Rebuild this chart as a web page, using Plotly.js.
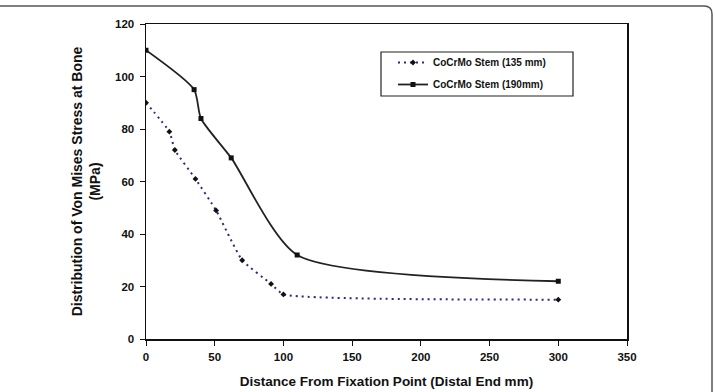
<!DOCTYPE html>
<html>
<head>
<meta charset="utf-8">
<script src="https://cdn.plot.ly/plotly-3.0.1.min.js"></script>
<style>
  html, body { margin: 0; padding: 0; background: #fff; }
  #chart { width: 715px; height: 392px; }
</style>
</head>
<body>
<div id="chart"></div>
<script>
// Distance from the fixation point (mm) and von Mises stress at bone (MPa)
const dist135 = [0, 17, 21, 36, 51, 70, 91, 100, 300];
const stress135 = [90, 79, 72, 61, 49, 30, 21, 17, 15];
const dist190 = [0, 35, 40, 62, 110, 300];
const stress190 = [110, 95, 84, 69, 32, 22];

const seriesNames = ['CoCrMo Stem (135 mm)', 'CoCrMo Stem (190mm)'];
const xTicks = [0, 50, 100, 150, 200, 250, 300, 350];
const yTicks = [0, 20, 40, 60, 80, 100, 120];

const FONT = 'Liberation Sans, Arial, Helvetica, sans-serif';

const traces = [
  {
    x: dist135, y: stress135, name: seriesNames[0], legendgroup: 'a',
    type: 'scatter', mode: 'lines+markers',
    line: { color: '#2a2a8a', width: 2, dash: '2px,4px', shape: 'spline', smoothing: 0.45 },
    marker: { symbol: 'diamond', size: 4.5, color: '#111' }
  },
  {
    x: dist190, y: stress190, name: seriesNames[1], legendgroup: 'b',
    type: 'scatter', mode: 'lines+markers',
    line: { color: '#222', width: 1.8, shape: 'spline', smoothing: 0.65 },
    marker: { symbol: 'square', size: 5, color: '#111' }
  }
];

// pixel -> paper coordinate helpers
const L = 146, R = 88, T = 24, B = 53, W = 715, H = 392;
const pw = W - L - R, ph = H - T - B;
const px = v => (v - L) / pw;
const py = v => (H - B - v) / ph;

// outer chart frame with a rounded top-right corner
const framePath = 'M ' + px(-5) + ',' + py(6) +
  ' L ' + px(704) + ',' + py(6) +
  ' Q ' + px(712) + ',' + py(6) + ' ' + px(712) + ',' + py(14) +
  ' L ' + px(712) + ',' + py(400);

const axisCommon = {
  showgrid: false, zeroline: false,
  showline: true, mirror: true, linecolor: '#111', linewidth: 1.5,
  ticks: 'outside', ticklen: 5, tickcolor: '#111', tickwidth: 1,
  tickfont: { family: FONT, size: 11.5, weight: 'bold', color: '#111' }
};

const layout = {
  width: W, height: H,
  margin: { l: L, r: R, t: T, b: B },
  paper_bgcolor: '#fff', plot_bgcolor: '#fff',
  showlegend: true,
  font: { family: FONT, color: '#111' },
  xaxis: Object.assign({}, axisCommon, {
    range: [0, 350], tickvals: xTicks, ticktext: xTicks.map(String),
    ticklabelstandoff: 2,
    title: { text: 'Distance From Fixation Point (Distal End mm)', standoff: 14,
             font: { family: FONT, size: 13.5, weight: 'bold', color: '#111' } }
  }),
  yaxis: Object.assign({}, axisCommon, {
    range: [0, 120], tickvals: yTicks, ticktext: yTicks.map(String),
    ticklabelstandoff: 3,
    title: { text: 'Distribution of Von Mises Stress at Bone<br>(MPa)', standoff: 11,
             font: { family: FONT, size: 14, weight: 'bold', color: '#111' } }
  }),
  legend: {
    x: px(393), y: py(48), xanchor: 'left', yanchor: 'top',
    bgcolor: 'rgba(0,0,0,0)', borderwidth: 0,
    font: { family: FONT, size: 10, weight: 'bold', color: '#111' },
    tracegroupgap: 3
  },
  shapes: [
    { type: 'path', xref: 'paper', yref: 'paper', path: framePath,
      line: { color: '#555', width: 1.5 } },
    // legend box
    { type: 'rect', xref: 'paper', yref: 'paper',
      x0: px(381), x1: px(573), y0: py(52), y1: py(96),
      line: { color: '#222', width: 1.2 }, fillcolor: 'rgba(0,0,0,0)', layer: 'above' }
  ]
};

Plotly.newPlot('chart', traces, layout, { displayModeBar: false, staticPlot: true });
</script>
</body>
</html>
